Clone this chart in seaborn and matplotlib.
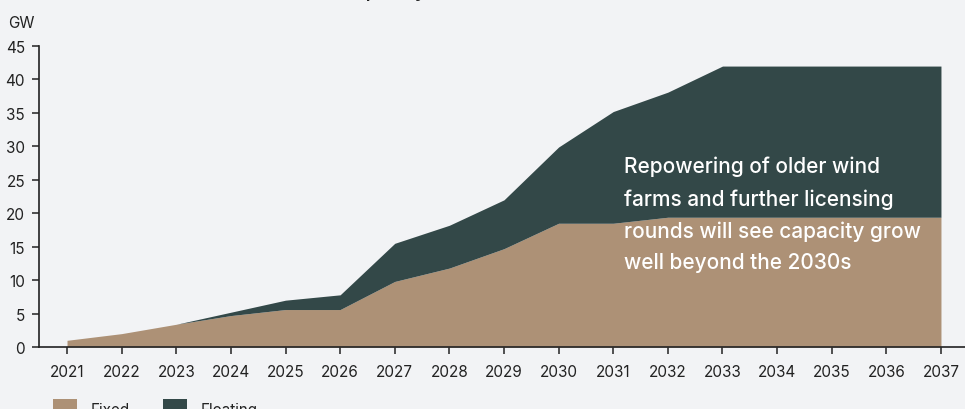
"""
Offshore wind capacity build-out, fixed vs floating (stacked area).
"""

import matplotlib.pyplot as plt
import pandas as pd
import seaborn as sns
from matplotlib.patches import Patch

# === data (GW) ===
years = list(range(2021, 2038))
fixed = [1.0, 2.0, 3.4, 4.7, 5.6, 5.6, 9.8, 11.8, 14.7, 18.5, 18.5,
         19.4, 19.4, 19.4, 19.4, 19.4, 19.4]
floating = [0.0, 0.0, 0.0, 0.5, 1.4, 2.2, 5.7, 6.4, 7.3, 11.4, 16.7,
            18.7, 22.6, 22.6, 22.6, 22.6, 22.6]
series_names = ["Fixed", "Floating"]
y_ticks = [0, 5, 10, 15, 20, 25, 30, 35, 40, 45]
note = ("Repowering of older wind\nfarms and further licensing\n"
        "rounds will see capacity grow\nwell beyond the 2030s")

BG = "#f2f3f5"
TAN = "#ad9176"
DARK = "#334848"
INK = "#222222"


def main() -> None:
    df = pd.DataFrame({"year": years, "Fixed": fixed, "Floating": floating})

    sns.set_theme(style="ticks")
    plt.rcParams["font.family"] = ["Inter", "DejaVu Sans"]

    fig = plt.figure(figsize=(9.65, 4.1), dpi=100, facecolor=BG)
    ax = fig.add_axes([39 / 965, 62 / 410, 926 / 965, 301 / 410])
    ax.set_facecolor(BG)

    ax.stackplot(df["year"], df["Fixed"], df["Floating"],
                 colors=[TAN, DARK], linewidth=0)

    ax.set_xlim(2020.487, 2037.44)
    ax.set_ylim(0, 45)
    ax.set_xticks(years)
    ax.set_yticks(y_ticks)
    ax.tick_params(axis="both", direction="out", length=5, width=1.1,
                   color=INK, labelcolor=INK, labelsize=11)
    ax.tick_params(axis="x", pad=7)
    ax.tick_params(axis="y", pad=5)
    sns.despine(ax=ax)
    for side in ["left", "bottom"]:
        ax.spines[side].set_color(INK)
        ax.spines[side].set_linewidth(1.2)
    ax.set_xlabel("")
    ax.set_ylabel("")

    # 註解文字
    ax.text(2031.2, 28.6, note, color="white", fontsize=15,
            fontweight="medium", va="top", ha="left", linespacing=1.72)

    # 單位
    fig.text(8 / 965, 1 - 24 / 410, "GW", color=INK, fontsize=11,
             va="center", ha="left")

    # 標題（大部分在畫面外）
    fig.text(310 / 965, 1 + 3 / 410, "Offshore wind capacity", color=INK,
             fontsize=15, fontweight="medium", va="baseline", ha="center")

    handles = [Patch(facecolor=c, edgecolor="none") for c in [TAN, DARK]]
    fig.legend(handles, series_names, loc="upper left",
               bbox_to_anchor=(39 / 965, 1 - 386 / 410), ncol=2,
               frameon=False, fontsize=11, handlelength=1.6,
               handleheight=1.6, handletextpad=0.9, columnspacing=2.15,
               labelcolor=INK)

    fig.savefig("out.png", dpi=100, facecolor=BG)


if __name__ == "__main__":
    main()
